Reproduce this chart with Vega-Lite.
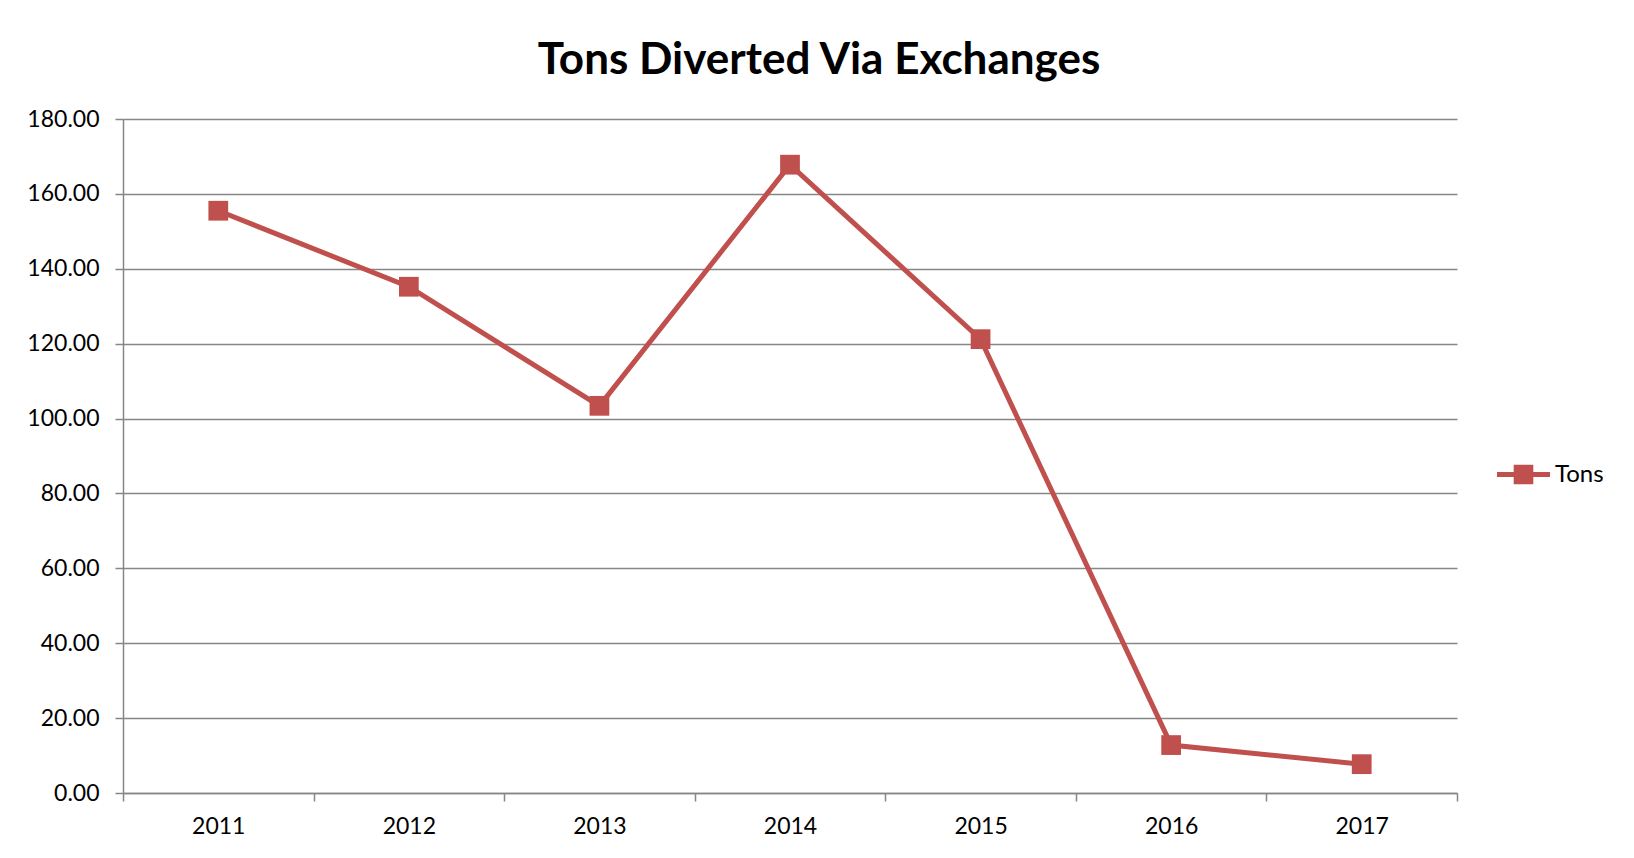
{
  "$schema": "https://vega.github.io/schema/vega-lite/v6.json",
  "width": 1334,
  "height": 674,
  "padding": {"left": 26, "top": 39, "right": 0, "bottom": 0},
  "background": "white",
  "title": {"text": "Tons Diverted Via Exchanges", "font": "Lato", "fontSize": 44, "fontWeight": "bold", "color": "#000000", "anchor": "middle", "dx": 29, "offset": 25},
  "data": {"values": [
    {"year": "2011", "tons": 155.5, "series": "Tons"},
    {"year": "2012", "tons": 135.2, "series": "Tons"},
    {"year": "2013", "tons": 103.4, "series": "Tons"},
    {"year": "2014", "tons": 167.8, "series": "Tons"},
    {"year": "2015", "tons": 121.2, "series": "Tons"},
    {"year": "2016", "tons": 12.8, "series": "Tons"},
    {"year": "2017", "tons": 7.7, "series": "Tons"}
  ]},
  "encoding": {
    "x": {"field": "year", "type": "ordinal", "scale": {"type": "band", "paddingInner": 0, "paddingOuter": 0},
      "axis": {"title": null, "labelAngle": 0, "tickBand": "extent", "grid": false, "tickSize": 8, "tickColor": "#868686", "tickWidth": 1.5, "domainColor": "#868686", "domainWidth": 1.5, "labelFont": "Lato", "labelFontSize": 23, "labelColor": "#000000", "labelPadding": 14}},
    "y": {"field": "tons", "type": "quantitative", "scale": {"domain": [0, 180], "nice": false},
      "axis": {"title": null, "values": [0, 20, 40, 60, 80, 100, 120, 140, 160, 180], "format": ".2f", "tickSize": 8, "tickColor": "#868686", "tickWidth": 1.5, "domainColor": "#868686", "domainWidth": 1.5, "gridColor": "#868686", "gridWidth": 1.5, "labelFont": "Lato", "labelFontSize": 23, "labelColor": "#000000", "labelPadding": 16}}
  },
  "layer": [
    {"mark": {"type": "line", "strokeWidth": 5},
     "encoding": {"color": {"field": "series", "type": "nominal", "scale": {"range": ["#C0504D"]},
       "legend": {"title": null, "orient": "none", "legendX": 1374, "legendY": 329, "symbolType": "M-1,-0.09H1V0.09H-1Z M-0.37,-0.37H0.37V0.37H-0.37Z", "symbolSize": 2809, "symbolFillColor": "#C0504D", "symbolStrokeColor": "#C0504D", "symbolStrokeWidth": 0, "labelFont": "Lato", "labelFontSize": 24, "labelColor": "#000000", "labelOffset": 5}}}},
    {"mark": {"type": "point", "shape": "square", "size": 390, "filled": true, "opacity": 1, "color": "#C0504D"}}
  ],
  "config": {"view": {"stroke": null}}
}
